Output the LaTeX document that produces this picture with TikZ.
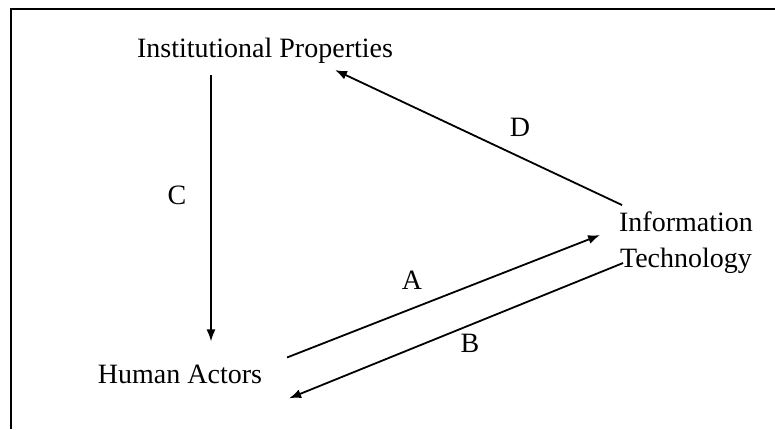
\documentclass[tikz,border=0pt]{standalone}
\usepackage{fontspec}
\setmainfont{Liberation Serif}
\usetikzlibrary{arrows.meta}

\begin{document}
\begin{tikzpicture}[
    x=0.5pt,
    y=-0.5pt,
    font=\fontsize{14}{18}\selectfont,
    conceptnode/.style={
        align=center,
        inner sep=0.3333em
    },
    letternode/.style={
        inner sep=1pt
    },
    arr/.style={
        -{Latex[length=6pt,width=4.5pt]},
        draw=black,
        line width=0.9pt
    },
    framebar/.style={
        draw=black,
        line width=1pt
    }
]

\useasboundingbox (0,0) rectangle (775,429);

% -----------------------------------------------------
% Frame (only top and left edge are printed)
% -----------------------------------------------------

\coordinate (frameBL) at (11,429);
\coordinate (frameTL) at (11,9);
\coordinate (frameTR) at (775,9);

\draw[framebar] (frameBL) -- (frameTL) -- (frameTR);

% -----------------------------------------------------
% Nodes
% -----------------------------------------------------

\node[conceptnode, anchor=base] (inst) at (265,57) {Institutional Properties};

\node[conceptnode, anchor=base] (human) at (180,383) {Human Actors};

\node[conceptnode] (info) at (686,243) {Information\\Technology};

% -----------------------------------------------------
% Arrows
% -----------------------------------------------------

\draw[arr, shorten <=2.5pt, shorten >=8pt]
    ([xshift=-27pt]inst.south) -- ([xshift=15.5pt]human.north);

\draw[arr] ([xshift=9pt]human.north east) -- ([xshift=-6pt,yshift=4pt]info.west);

\draw[arr] ([xshift=5.5pt,yshift=-10pt]info.west) -- ([xshift=10pt,yshift=-4pt]human.south east);

\draw[arr] ([xshift=5pt]info.north west) -- ([xshift=35pt]inst.south);

% Letters on the arrows
\node[letternode] (labC) at (177,195) {C};
\node[letternode] (labD) at (520,127) {D};
\node[letternode] (labA) at (412,280) {A};
\node[letternode] (labB) at (470,343) {B};

\end{tikzpicture}
\end{document}
